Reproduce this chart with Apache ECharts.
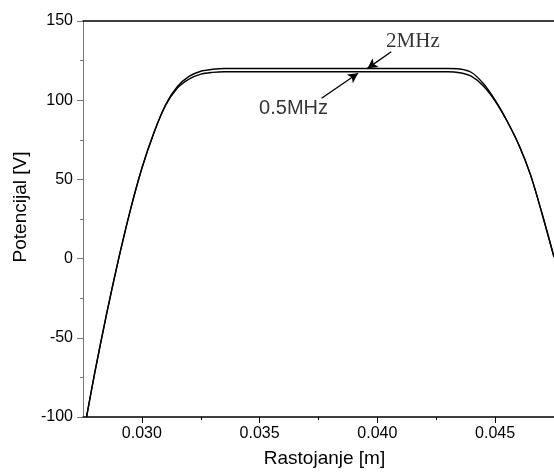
<!DOCTYPE html>
<html>
<head>
<meta charset="utf-8">
<script src="https://cdn.jsdelivr.net/npm/echarts@6/dist/echarts.min.js"></script>
<style>
html,body{margin:0;padding:0;background:#fff;}
#c{width:554px;height:473px;}
</style>
</head>
<body>
<div id="c"></div>
<script>
// Distance [m]
const xs = [0.02765, 0.0280, 0.0285, 0.0290, 0.0295, 0.0300, 0.0305, 0.0310, 0.0315, 0.0320, 0.0325, 0.0330, 0.0335, 0.0340, 0.0345, 0.0360, 0.0380, 0.0400, 0.0420, 0.0425, 0.0430, 0.0435, 0.0440, 0.0445, 0.0450, 0.0455, 0.0460, 0.0465, 0.0470, 0.0475];
// Potential [V]
const v2MHz  = [-100, -72, -35, -1, 30, 57, 79, 97, 108.5, 115, 118.3, 119.5, 120, 120, 120, 120, 120, 120, 120, 120, 120, 119.7, 117.5, 110.5, 100, 87, 72, 53, 28, 1];
const v05MHz = [-100, -72, -35, -1, 30, 57, 79, 96.5, 107.5, 113.3, 116.5, 117.6, 118, 118, 118, 118, 118, 118, 118, 118, 118, 117.3, 115, 109, 99.5, 87, 72, 53, 28, 1];

const xMajorTicks = [0.030, 0.035, 0.040, 0.045];
const xMinorTicks = [0.0325, 0.0375, 0.0425];

// annotations: [label, textPos, arrowStart, arrowEnd]
const annLabels = ['2MHz', '0.5MHz'];
const annTextPos = [[0.04151, 137.1], [0.03644, 94.5]];
const annArrowFrom = [[0.04059, 130.6], [0.03763, 101.2]];
const annArrowTo = [[0.03958, 120.1], [0.03918, 117.0]];

const sans = '"Liberation Sans", Arial, Helvetica, sans-serif';
const serif = '"Liberation Serif", "Times New Roman", serif';

const chart = echarts.init(document.getElementById('c'), null, {renderer: 'canvas'});

const lineData = (ys) => xs.map((x, i) => [x, ys[i]]);

chart.setOption({
  animation: false,
  backgroundColor: '#fff',
  grid: {left: 83, top: 21, width: 472, height: 396, containLabel: false},
  xAxis: [
    {
      type: 'value', min: 0.0275, max: 0.0475,
      name: 'Rastojanje [m]', nameLocation: 'middle', nameGap: 32,
      nameTextStyle: {fontFamily: sans, fontSize: 19, color: '#000', padding: [0, 0, 0, 12]},
      axisLine: {show: true, onZero: false, lineStyle: {color: '#000', width: 1.5}},
      axisTick: {show: true, length: 6, customValues: xMajorTicks, lineStyle: {color: '#000', width: 1}},
      axisLabel: {show: true, margin: 9, customValues: xMajorTicks, fontFamily: sans, fontSize: 16, color: '#000',
        formatter: (v) => v.toFixed(3)},
      splitLine: {show: false}
    },
    {
      type: 'value', min: 0.0275, max: 0.0475, position: 'bottom',
      axisLine: {show: false, onZero: false},
      axisTick: {show: true, length: 3, customValues: xMinorTicks, lineStyle: {color: '#000', width: 1}},
      axisLabel: {show: false, customValues: xMinorTicks},
      splitLine: {show: false}
    },
    {
      type: 'value', min: 0.0275, max: 0.0475, position: 'top',
      axisLine: {show: true, onZero: false, lineStyle: {color: '#000', width: 1.5}},
      axisTick: {show: false}, axisLabel: {show: false}, splitLine: {show: false}
    }
  ],
  yAxis: [{
    type: 'value', min: -100, max: 150, interval: 50,
    name: 'Potencijal [V]', nameLocation: 'middle', nameGap: 53,
    nameTextStyle: {fontFamily: sans, fontSize: 19, color: '#000', padding: [0, 0, 0, 24]},
    axisLine: {show: true, onZero: false, lineStyle: {color: '#777', width: 1}},
    axisTick: {show: true, length: 6, lineStyle: {color: '#777', width: 1}},
    minorTick: {show: true, splitNumber: 2, length: 3, lineStyle: {color: '#777', width: 1}},
    axisLabel: {margin: 10, fontFamily: sans, fontSize: 16, color: '#000'},
    splitLine: {show: false}
  }],
  series: [
    {
      name: '2MHz', type: 'line', xAxisIndex: 0, data: lineData(v2MHz),
      smooth: 0.3, symbol: 'none', clip: true,
      lineStyle: {color: '#000', width: 1.4}
    },
    {
      name: '0.5MHz', type: 'line', xAxisIndex: 0, data: lineData(v05MHz),
      smooth: 0.3, symbol: 'none', clip: true,
      lineStyle: {color: '#000', width: 1.4}
    },
    {
      type: 'scatter', xAxisIndex: 0, symbolSize: 0, silent: true,
      data: annLabels.map((t, i) => ({
        value: annTextPos[i], name: t,
        label: {show: true, position: 'inside', formatter: t, color: '#000',
          fontFamily: i === 0 ? serif : sans, fontSize: i === 0 ? 21 : 20}
      })),
      markLine: {
        silent: true, symbol: ['none', 'arrow'], symbolSize: [8, 10],
        label: {show: false},
        lineStyle: {color: '#000', width: 1.3, type: 'solid'},
        data: annArrowFrom.map((p, i) => [{coord: p}, {coord: annArrowTo[i]}])
      }
    }
  ]
});
</script>
</body>
</html>
